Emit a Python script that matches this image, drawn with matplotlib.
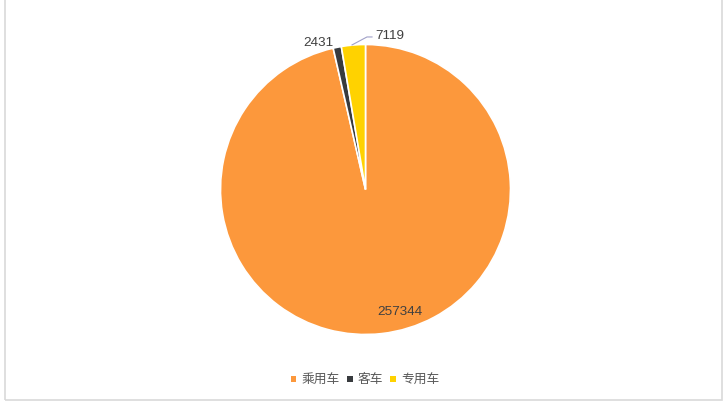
import matplotlib
matplotlib.use("Agg")
import matplotlib.pyplot as plt
from matplotlib.patches import Rectangle, Patch

plt.rcParams['font.family'] = ['Noto Sans CJK SC', 'DejaVu Sans']

categories = ['乘用车', '客车', '专用车']
values = [257344, 2431, 7119]
colors = ['#FC983C', '#383B3E', '#FFD200']

W, H = 727, 416
fig = plt.figure(figsize=(W / 100, H / 100), dpi=100)

# chart frame
fig.patches.append(Rectangle((5 / W, (H - 400) / H), 717 / W, 1.2, transform=fig.transFigure,
                             fill=False, edgecolor='#D9D9D9', linewidth=1.2, zorder=0))

cx, cy, r = 365.5, 189.5, 145
ax = fig.add_axes([(cx - r) / W, (H - cy - r) / H, 2 * r / W, 2 * r / H])
wedges, _ = ax.pie(values, colors=colors, startangle=90, counterclock=False, radius=1,
                   wedgeprops=dict(edgecolor='white', linewidth=1.2))
ax.set_xlim(-1, 1)
ax.set_ylim(-1, 1)
ax.set_aspect('auto')
ax.axis('off')

lab_col = '#404040'
num_font = dict(fontsize=9.7, color=lab_col, family=['Liberation Sans', 'DejaVu Sans'])
ax.text(0.238, -0.845, f'{values[0]}', ha='center', va='center', **num_font)
ax.text(-0.324, 1.01, f'{values[1]}', ha='center', va='center', **num_font)
ax.text(0.17, 1.059, f'{values[2]}', ha='center', va='center', **num_font)
ax.plot([-0.093, 0.01, 0.045], [0.997, 1.052, 1.052], color='#A0A0C8', linewidth=0.8,
        clip_on=False)

handles = [Patch(facecolor=c, edgecolor='none') for c in colors]
fig.legend(handles, categories, loc='center', bbox_to_anchor=(365 / W, (H - 380) / H),
           ncol=3, frameon=False, fontsize=9.2, handlelength=0.45, handleheight=0.45,
           handletextpad=0.4, columnspacing=0.55, labelcolor='#595959')

fig.savefig('out.png', dpi=100, facecolor='white')
